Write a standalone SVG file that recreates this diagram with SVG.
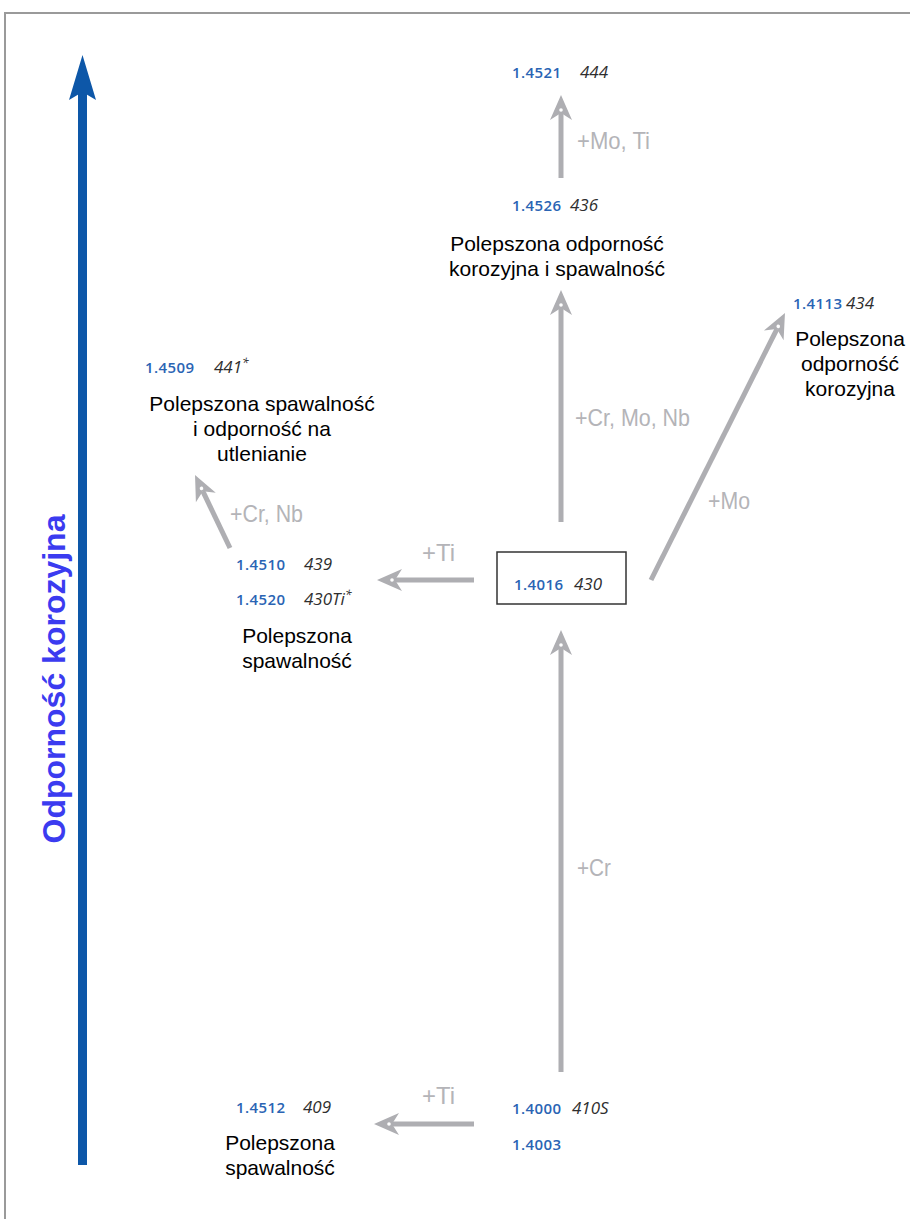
<svg xmlns="http://www.w3.org/2000/svg" width="910" height="1219" viewBox="0 0 910 1219">
<style>
.code{font-family:"Open Sans","DejaVu Sans",sans-serif;font-size:15px;font-weight:600;fill:#2a64b4;letter-spacing:0.4px}
.num{font-family:"Open Sans","DejaVu Sans",sans-serif;font-size:17px;font-style:italic;fill:#2e2e2e}
.lbl{font-family:"Liberation Sans",Arial,sans-serif;font-size:21px;fill:#000000;text-anchor:middle}
.add{font-family:"Liberation Sans Narrow","Liberation Sans",sans-serif;font-size:24px;fill:#b4b4b8}
.arr{stroke:#aeaeb2;stroke-width:5;fill:none;marker-end:url(#gh)}
</style>
<defs>
<marker id="gh" markerUnits="userSpaceOnUse" viewBox="-10 -14 34 28" refX="0" refY="0" markerWidth="34" markerHeight="28" orient="auto" overflow="visible">
<path d="M18,0 L-7,-11 L0,0 L-7,11 Z" fill="#aeaeb2"/>
<circle cx="3" cy="0" r="1.8" fill="#ffffff"/>
</marker>
</defs>
<rect width="910" height="1219" fill="#ffffff"/>
<path d="M5,1219 V13 H910" fill="none" stroke="#9a9a9a" stroke-width="2"/>

<g id="axis">
<rect x="78" y="92" width="9" height="1073" fill="#0d57a8"/>
<path d="M82.5,55 L96,100 L82.5,92 L69,100 Z" fill="#0d57a8"/>
<text transform="translate(65,679) rotate(-90)" font-family="Liberation Sans,Arial,sans-serif" font-size="32" font-weight="bold" fill="#3b3bf0" text-anchor="middle">Odporność korozyjna</text>
</g>

<g id="connectors">
<line class="arr" x1="561" y1="178" x2="561" y2="113"/>
<line class="arr" x1="561" y1="522" x2="561" y2="308"/>
<line class="arr" x1="561" y1="1072" x2="561" y2="648"/>
<line class="arr" x1="474" y1="580" x2="395" y2="580"/>
<line class="arr" x1="474" y1="1124" x2="392" y2="1124"/>
<line class="arr" x1="651" y1="580" x2="776.9" y2="329.1"/>
<line class="arr" x1="230" y1="548" x2="202.8" y2="491.2"/>
<text class="add" x="577" y="149" textLength="73" lengthAdjust="spacingAndGlyphs">+Mo, Ti</text>
<text class="add" x="575" y="426" textLength="115" lengthAdjust="spacingAndGlyphs">+Cr, Mo, Nb</text>
<text class="add" x="708" y="509" textLength="42" lengthAdjust="spacingAndGlyphs">+Mo</text>
<text class="add" x="422" y="561" textLength="33" lengthAdjust="spacingAndGlyphs">+Ti</text>
<text class="add" x="230" y="522" textLength="73" lengthAdjust="spacingAndGlyphs">+Cr, Nb</text>
<text class="add" x="577" y="876" textLength="34" lengthAdjust="spacingAndGlyphs">+Cr</text>
<text class="add" x="422" y="1104" textLength="33" lengthAdjust="spacingAndGlyphs">+Ti</text>
</g>

<g id="n444">
<text class="code" x="512" y="78">1.4521</text><text class="num" x="580" y="78">444</text>
</g>
<g id="n436">
<text class="code" x="512" y="211">1.4526</text><text class="num" x="570" y="211">436</text>
<text class="lbl" x="557" y="251">Polepszona odporność</text>
<text class="lbl" x="557" y="276">korozyjna i spawalność</text>
</g>
<g id="n434">
<text class="code" x="793" y="309">1.4113</text><text class="num" x="846" y="309">434</text>
<text class="lbl" x="850" y="346">Polepszona</text>
<text class="lbl" x="850" y="371">odporność</text>
<text class="lbl" x="850" y="396">korozyjna</text>
</g>
<g id="n441">
<text class="code" x="145" y="373">1.4509</text><text class="num" x="214" y="373">441<tspan font-size="12" dy="-6">*</tspan></text>
<text class="lbl" x="262" y="411">Polepszona spawalność</text>
<text class="lbl" x="262" y="436">i odporność na</text>
<text class="lbl" x="262" y="461">utlenianie</text>
</g>
<g id="n439">
<text class="code" x="236" y="570">1.4510</text><text class="num" x="304" y="570">439</text>
<text class="code" x="236" y="605">1.4520</text><text class="num" x="304" y="605">430Ti<tspan font-size="12" dy="-6">*</tspan></text>
<text class="lbl" x="297" y="643">Polepszona</text>
<text class="lbl" x="297" y="668">spawalność</text>
</g>
<g id="n430">
<rect x="497" y="552" width="129" height="52" fill="#ffffff" stroke="#333333" stroke-width="1.5"/>
<text class="code" x="514" y="590">1.4016</text><text class="num" x="574" y="590">430</text>
</g>
<g id="n409">
<text class="code" x="236" y="1113">1.4512</text><text class="num" x="303" y="1113">409</text>
<text class="lbl" x="280" y="1150">Polepszona</text>
<text class="lbl" x="280" y="1175">spawalność</text>
</g>
<g id="n410">
<text class="code" x="512" y="1114">1.4000</text><text class="num" x="572" y="1114">410S</text>
<text class="code" x="512" y="1150">1.4003</text>
</g>
</svg>
